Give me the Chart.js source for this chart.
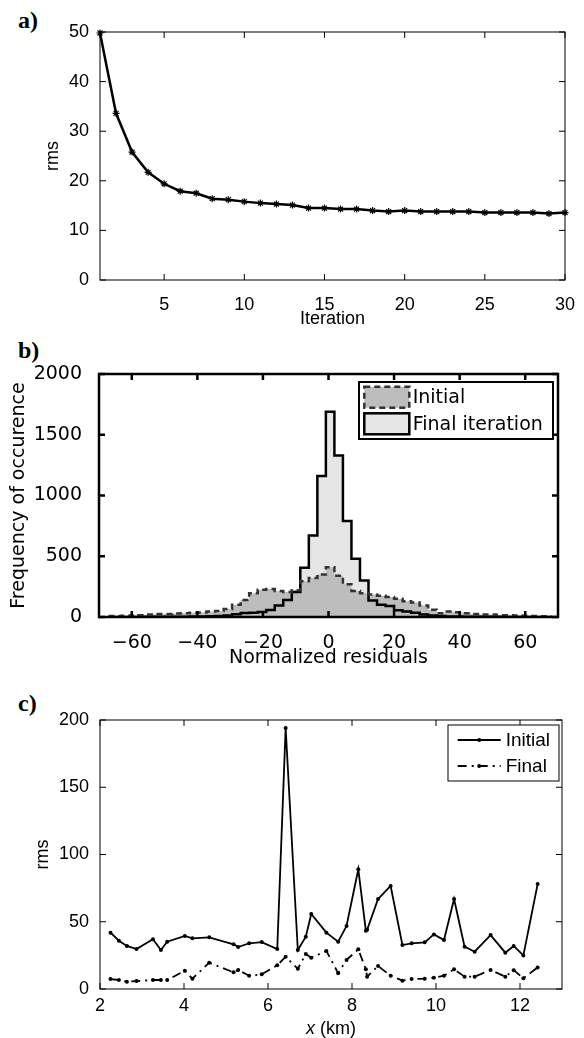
<!DOCTYPE html>
<html>
<head>
<meta charset="utf-8">
<script src="https://cdn.jsdelivr.net/npm/chart.js@4.4.1/dist/chart.umd.min.js"></script>
<style>
  body { margin: 0; background: #fff; width: 584px; height: 1038px; position: relative; overflow: hidden; }
  canvas { position: absolute; left: 0; }
  .tag { position: absolute; left: 18px; font: bold 24px 'Liberation Serif', 'Times New Roman', serif; line-height: 24px; }
  .xlab { position: absolute; left: 0; width: 662px; text-align: center; font: 18px 'Liberation Sans', Arial, sans-serif; line-height: 20px; }
</style>
</head>
<body>
<div class="tag" style="top:8px">a)</div>
<div class="tag" style="top:338px">b)</div>
<div class="tag" style="top:691px">c)</div>
<canvas id="chartA" width="584" height="340" style="top:0"></canvas>
<canvas id="chartB" width="584" height="340" style="top:340px"></canvas>
<canvas id="chartC" width="584" height="358" style="top:680px"></canvas>
<div class="xlab" style="top:1018px"><i>x</i> (km)</div>
<script>
'use strict';
// a) rms against iteration
const iterations = [1, 2, 3, 4, 5, 6, 7, 8, 9, 10, 11, 12, 13, 14, 15, 16, 17, 18, 19, 20, 21, 22, 23, 24, 25, 26, 27, 28, 29, 30];
const rmsIter = [49.8, 33.6, 25.8, 21.7, 19.4, 17.9, 17.5, 16.4, 16.2, 15.8, 15.5, 15.3, 15.1, 14.5, 14.5,
                 14.3, 14.3, 14.0, 13.8, 14.0, 13.8, 13.8, 13.8, 13.8, 13.6, 13.6, 13.6, 13.6, 13.4, 13.6];
const iterTicks = [5, 10, 15, 20, 25, 30];
const rmsTicksA = [0, 10, 20, 30, 40, 50];

// b) histogram of normalized residuals (bin centres)
const residBins = [-67.1, -64.5, -61.9, -59.3, -56.7, -54.1, -51.5, -48.9, -46.3, -43.7, -41.1, -38.5, -35.9,
                   -33.3, -30.7, -28.1, -25.5, -22.9, -20.3, -17.7, -15.1, -12.5, -9.9, -7.3, -4.7, -2.1,
                   0.5, 3.1, 5.7, 8.3, 10.9, 13.5, 16.1, 18.7, 21.3, 23.9, 26.5, 29.1, 31.7, 34.3,
                   36.9, 39.5, 42.1, 44.7, 47.3, 49.9, 52.5, 55.1, 57.7, 60.3, 62.9, 65.5, 68.1];
const countInitial = [8, 8, 10, 12, 15, 20, 25, 25, 28, 30, 35, 38, 45,
                      50, 65, 100, 140, 195, 225, 230, 215, 205, 220, 295, 320, 350,
                      410, 340, 270, 215, 195, 185, 175, 165, 150, 130, 120, 95, 60, 30,
                      45, 40, 30, 25, 20, 20, 15, 15, 12, 10, 8, 6, 5];
const countFinal = [1, 1, 1, 1, 2, 2, 2, 2, 3, 3, 4, 5, 6,
                    8, 12, 22, 32, 36, 42, 58, 95, 140, 205, 405, 670, 1160,
                    1690, 1330, 790, 480, 300, 135, 100, 90, 55, 45, 35, 20, 12, 8,
                    5, 4, 3, 3, 2, 2, 2, 1, 1, 1, 1, 1, 1];
const residTicks = [-60, -40, -20, 0, 20, 40, 60];
const freqTicks = [0, 500, 1000, 1500, 2000];

// c) rms along the profile
const xKm = [2.25, 2.45, 2.64, 2.87, 3.26, 3.45, 3.60, 4.02, 4.20, 4.60, 5.18, 5.29, 5.55, 5.85, 6.22, 6.42,
             6.71, 6.90, 7.03, 7.39, 7.67, 7.87, 8.15, 8.33, 8.36, 8.62, 8.92, 9.20, 9.42, 9.73, 9.95,
             10.19, 10.43, 10.68, 10.92, 11.30, 11.65, 11.85, 12.08, 12.42];
const rmsInitial = [41.9, 35.9, 32.0, 29.7, 37.0, 29.0, 35.2, 39.4, 37.7, 38.4, 33.2, 31.2, 34.0, 34.9, 29.7, 194,
                    29.0, 38.9, 55.8, 41.9, 35.2, 46.8, 89, 43.4, 44.0, 66.9, 76.6, 32.7, 34.0, 34.7, 40.6,
                    36.4, 66.9, 31.5, 27.7, 40.1, 27.0, 32, 25, 78];
const rmsFinal = [7.4, 6.7, 5.4, 5.9, 6.7, 6.7, 6.7, 13.6, 7.7, 19.6, 12.4, 14.1, 9.9, 10.9, 17.6, 24.0,
                  15.1, 26.0, 23.3, 28.3, 11.7, 21.6, 29.5, 14.6, 9.2, 17.1, 9.9, 6.2, 7.4, 7.7, 8.4,
                  9.9, 14.6, 9.2, 9.2, 14.1, 9.2, 14, 8, 16];
const kmTicks = [2, 4, 6, 8, 10, 12];
const rmsTicksC = [0, 50, 100, 150, 200];

const ARIAL = "'Liberation Sans', Arial, sans-serif";
const DEJAVU = "'DejaVu Sans', sans-serif";

function fixedTicks(list) {
    return scale => { scale.ticks = list.map(v => ({ value: v })); };
}
function toPoints(xs, ys) {
    return xs.map((x, i) => ({ x: x, y: ys[i] }));
}

// box round the plot with ticks pointing inwards, on all four sides
const matlabBox = {
    id: 'matlabBox',
    afterDatasetsDraw(chart, args, opts) {
        const { ctx, chartArea: a, scales: { x, y } } = chart;
        const t = opts.tick;
        ctx.save();
        ctx.strokeStyle = '#000';
        ctx.lineWidth = opts.width;
        ctx.beginPath();
        x.ticks.forEach(tk => {
            const px = x.getPixelForValue(tk.value);
            ctx.moveTo(px, a.bottom); ctx.lineTo(px, a.bottom - t);
            ctx.moveTo(px, a.top); ctx.lineTo(px, a.top + t);
        });
        y.ticks.forEach(tk => {
            const py = y.getPixelForValue(tk.value);
            ctx.moveTo(a.left, py); ctx.lineTo(a.left + t, py);
            ctx.moveTo(a.right, py); ctx.lineTo(a.right - t, py);
        });
        ctx.stroke();
        ctx.strokeRect(a.left, a.top, a.right - a.left, a.bottom - a.top);
        ctx.restore();
    }
};

// framed legend inside the top right corner of the plot
const boxLegend = {
    id: 'boxLegend',
    afterDatasetsDraw(chart, args, o) {
        if (!o.show) return;
        const { ctx, chartArea: a } = chart;
        const items = chart.data.datasets;
        const left = a.right - o.marginRight - o.width;
        const top = a.top + o.marginTop;
        const h = o.rowHeight * items.length + o.pad * 2;
        ctx.save();
        ctx.fillStyle = '#fff';
        ctx.fillRect(left, top, o.width, h);
        ctx.strokeStyle = '#000';
        ctx.lineWidth = o.frameWidth;
        ctx.strokeRect(left, top, o.width, h);
        ctx.font = o.font;
        ctx.textBaseline = 'middle';
        items.forEach((d, i) => {
            const cy = top + o.pad + o.rowHeight * (i + 0.5);
            const sx = left + o.sampleX;
            ctx.setLineDash(d.borderDash || []);
            ctx.lineWidth = d.borderWidth;
            ctx.strokeStyle = d.borderColor;
            if (o.kind === 'box') {
                ctx.fillStyle = d.backgroundColor;
                ctx.fillRect(sx, cy - o.sampleH / 2, o.sampleW, o.sampleH);
                ctx.strokeRect(sx, cy - o.sampleH / 2, o.sampleW, o.sampleH);
            } else {
                ctx.beginPath();
                ctx.moveTo(sx, cy); ctx.lineTo(sx + o.sampleW, cy);
                ctx.stroke();
                ctx.setLineDash([]);
                ctx.fillStyle = '#000';
                ctx.beginPath();
                ctx.arc(sx + o.sampleW / 2, cy, 2, 0, Math.PI * 2);
                ctx.fill();
            }
            ctx.setLineDash([]);
            ctx.fillStyle = '#000';
            ctx.fillText(d.label, sx + o.sampleW + o.gap, cy + 1);
        });
        ctx.restore();
    }
};

function axis(opts) {
    // shared scale settings: no grid, black tick labels, fixed width/height
    const s = {
        type: 'linear',
        min: opts.min,
        max: opts.max,
        grid: { display: false },
        border: { display: false },
        afterBuildTicks: fixedTicks(opts.ticks),
        ticks: {
            color: '#000',
            font: { family: opts.family, size: opts.size, lineHeight: opts.lh || 1.2 },
            padding: opts.pad,
            maxRotation: 0,
            autoSkip: false,
            callback: v => String(v).replace('-', '\u2212')
        },
        title: {
            display: !!opts.title,
            text: opts.title,
            color: '#000',
            font: { family: opts.family, size: opts.size },
            padding: 0
        }
    };
    if (opts.width) s.afterFit = sc => { sc.width = opts.width; };
    if (opts.height) s.afterFit = sc => { sc.height = opts.height; };
    return s;
}

const common = {
    responsive: false,
    animation: false,
    events: [],
    plugins: { legend: { display: false }, tooltip: { enabled: false } }
};

// ---- a)
new Chart(document.getElementById('chartA'), {
    type: 'line',
    data: {
        datasets: [{
            data: toPoints(iterations, rmsIter),
            borderColor: '#000',
            borderWidth: 2.5,
            pointStyle: 'star',
            pointRadius: 3.5,
            pointBorderWidth: 1.2,
            pointBorderColor: '#000',
            pointBackgroundColor: '#000',
            clip: false
        }]
    },
    options: {
        ...common,
        layout: { padding: { left: 42, right: 19, top: 32, bottom: 9.7 } },
        plugins: { ...common.plugins, matlabBox: { width: 1, tick: 6 } },
        scales: {
            x: axis({ min: 1, max: 30, ticks: iterTicks, family: ARIAL, size: 18, pad: 6, title: 'Iteration', height: 50.3 }),
            y: axis({ min: 0, max: 50, ticks: rmsTicksA, family: ARIAL, size: 18, pad: 3, title: 'rms', width: 58 })
        }
    },
    plugins: [matlabBox]
});

// ---- b)
new Chart(document.getElementById('chartB'), {
    type: 'line',
    data: {
        datasets: [{
            label: 'Initial',
            data: toPoints(residBins, countInitial),
            stepped: 'middle',
            fill: 'origin',
            backgroundColor: '#bdbdbd',
            borderColor: '#333',
            borderWidth: 2.5,
            borderDash: [6, 4],
            pointRadius: 0
        }, {
            label: 'Final iteration',
            data: toPoints(residBins, countFinal),
            stepped: 'middle',
            fill: 'origin',
            backgroundColor: '#e6e6e6',
            borderColor: '#000',
            borderWidth: 2.5,
            pointRadius: 0
        }]
    },
    options: {
        ...common,
        layout: { padding: { left: 7.5, right: 26, top: 34, bottom: 10.6 } },
        plugins: {
            ...common.plugins,
            filler: { drawTime: 'beforeDatasetsDraw' },
            matlabBox: { width: 2.5, tick: 6 },
            boxLegend: {
                show: true, kind: 'box', marginRight: 5, marginTop: 8, width: 194,
                rowHeight: 26.6, pad: 1.9, sampleX: 5.3, sampleW: 45, sampleH: 21, gap: 3.4,
                frameWidth: 2, font: '19px ' + DEJAVU
            }
        },
        scales: {
            x: axis({ min: -70, max: 70, ticks: residTicks, family: DEJAVU, size: 19, pad: 7, title: 'Normalized residuals', height: 52.4 }),
            y: axis({ min: 0, max: 2000, ticks: freqTicks, family: DEJAVU, size: 19, pad: 9, title: 'Frequency of occurence', width: 91.5 })
        }
    },
    plugins: [matlabBox, boxLegend]
});

// ---- c)
new Chart(document.getElementById('chartC'), {
    type: 'line',
    data: {
        datasets: [{
            label: 'Initial',
            data: toPoints(xKm, rmsInitial),
            borderColor: '#000',
            borderWidth: 1.8,
            pointRadius: 2,
            pointBorderWidth: 0,
            pointBackgroundColor: '#000'
        }, {
            label: 'Final',
            data: toPoints(xKm, rmsFinal),
            borderColor: '#000',
            borderWidth: 1.8,
            borderDash: [9, 5, 2, 5],
            pointRadius: 2,
            pointBorderWidth: 0,
            pointBackgroundColor: '#000'
        }]
    },
    options: {
        ...common,
        layout: { padding: { left: 32, right: 22, top: 40, bottom: 14 } },
        plugins: {
            ...common.plugins,
            matlabBox: { width: 1, tick: 6 },
            boxLegend: {
                show: true, kind: 'line', marginRight: 3, marginTop: 5, width: 111,
                rowHeight: 26, pad: 2, sampleX: 9.7, sampleW: 43, sampleH: 0, gap: 5,
                frameWidth: 1, font: '19px ' + ARIAL
            }
        },
        scales: {
            x: axis({ min: 2, max: 13, ticks: kmTicks, family: ARIAL, size: 18, lh: 1, pad: 0, title: '', height: 35 }),
            y: axis({ min: 0, max: 200, ticks: rmsTicksC, family: ARIAL, size: 18, pad: 3, title: 'rms', width: 68 })
        }
    },
    plugins: [matlabBox, boxLegend]
});
</script>
</body>
</html>
